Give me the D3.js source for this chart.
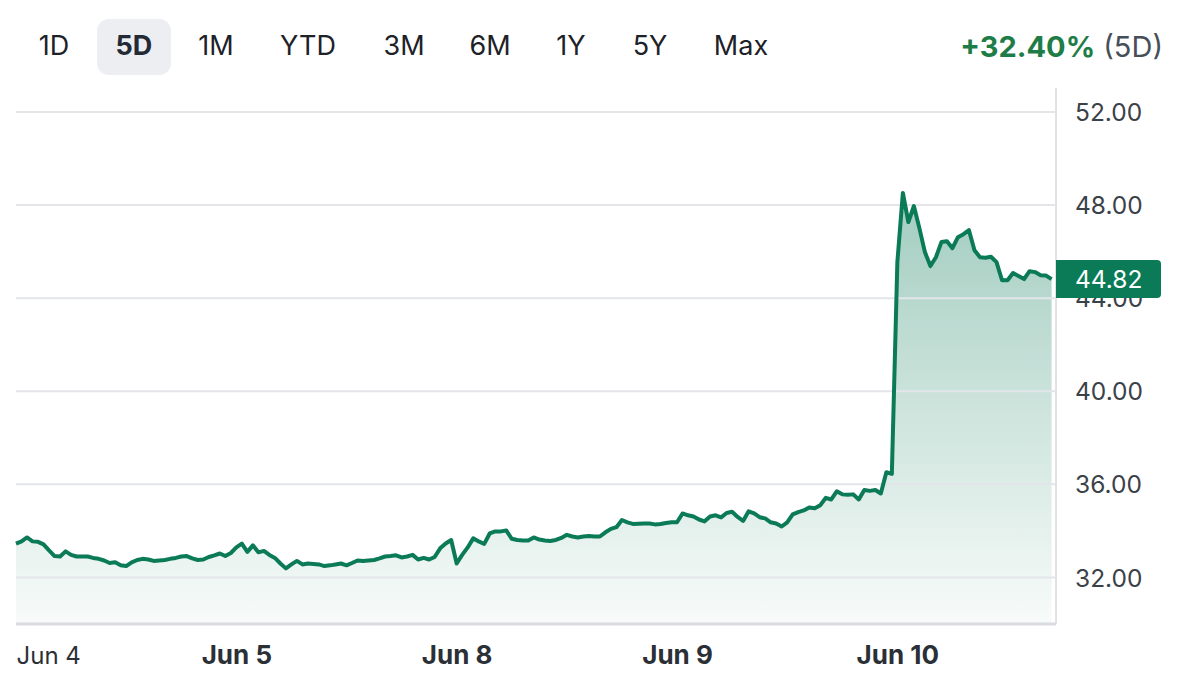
<!DOCTYPE html>
<meta charset="utf-8">
<script src="https://d3js.org/d3.v7.min.js"></script>
<style>
  body { margin: 0; background: #fff; }
  svg { font-family: "Inter", "Noto Sans", sans-serif; }
</style>
<div id="chart"></div>
<script>
  // range buttons across the top
  const ranges = ["1D", "5D", "1M", "YTD", "3M", "6M", "1Y", "5Y", "Max"];
  const rangeX = [54, 134, 216, 308, 404, 490, 571, 650, 741];
  const activeRange = "5D";
  const changeText = "+32.40%";
  const changeSuffix = " (5D)";

  // one array per session, 40 samples per full day (Jun 10 still trading)
  const jun4 = [33.45, 33.55, 33.72, 33.55, 33.53, 33.42, 33.16, 32.92, 32.90, 33.12,
    32.97, 32.90, 32.90, 32.90, 32.84, 32.80, 32.73, 32.62, 32.65, 32.52,
    32.49, 32.65, 32.75, 32.80, 32.77, 32.71, 32.73, 32.75, 32.80, 32.84,
    32.90, 32.92, 32.82, 32.75, 32.77, 32.88, 32.95, 33.03, 32.92, 33.05];
  const jun5 = [33.29, 33.45, 33.10, 33.38, 33.08, 33.14, 32.97, 32.84, 32.60, 32.39,
    32.56, 32.71, 32.56, 32.60, 32.58, 32.56, 32.49, 32.52, 32.56, 32.60,
    32.52, 32.62, 32.73, 32.71, 32.73, 32.75, 32.82, 32.90, 32.92, 32.95,
    32.86, 32.90, 32.97, 32.77, 32.84, 32.77, 32.88, 33.25, 33.46, 33.61];
  const jun8 = [32.60, 32.97, 33.29, 33.68, 33.55, 33.44, 33.89, 33.98, 33.98, 34.02,
    33.66, 33.61, 33.59, 33.59, 33.72, 33.63, 33.59, 33.57, 33.61, 33.70,
    33.83, 33.76, 33.72, 33.76, 33.78, 33.76, 33.76, 33.94, 34.09, 34.16,
    34.47, 34.37, 34.30, 34.31, 34.32, 34.32, 34.28, 34.30, 34.34, 34.37];
  const jun9 = [34.37, 34.75, 34.67, 34.62, 34.49, 34.41, 34.62, 34.67, 34.58, 34.77,
    34.82, 34.60, 34.43, 34.84, 34.75, 34.59, 34.54, 34.37, 34.32, 34.19,
    34.37, 34.71, 34.81, 34.88, 35.01, 34.97, 35.10, 35.42, 35.35, 35.70,
    35.57, 35.55, 35.57, 35.35, 35.76, 35.72, 35.76, 35.61, 36.52, 36.45];
  const jun10 = [45.55, 48.52, 47.27, 47.96, 47.01, 45.98, 45.38, 45.76, 46.41, 46.45,
    46.15, 46.62, 46.75, 46.92, 46.06, 45.76, 45.74, 45.78, 45.55, 44.77,
    44.77, 45.08, 44.95, 44.82, 45.16, 45.12, 44.99, 44.97, 44.82];
  const sessions = [jun4, jun5, jun8, jun9, jun10];
  const samplesPerDay = 40;
  const lastPrice = 44.82;

  const dayLabels = ["Jun 4", "Jun 5", "Jun 8", "Jun 9", "Jun 10"];
  const yTicks = [32, 36, 40, 44, 48, 52];

  const green = "#0b7a57";
  const width = 1183, height = 684;
  const plot = { left: 16, right: 1056, top: 88, bottom: 624 };

  // flatten sessions into points on a "trading day" time axis
  const data = [];
  sessions.forEach((s, d) => s.forEach((v, i) => data.push({ t: d + i / samplesPerDay, v: v })));

  const svg = d3.select("#chart").append("svg")
    .attr("width", width)
    .attr("height", height);

  const x = d3.scaleLinear().domain([0, 4.72]).range([plot.left, plot.right]);
  const y = d3.scaleLinear().domain([30, 52]).range([plot.bottom, 112]);

  // header buttons
  svg.append("rect")
    .attr("x", rangeX[ranges.indexOf(activeRange)] - 37)
    .attr("y", 19)
    .attr("width", 74)
    .attr("height", 56)
    .attr("rx", 12)
    .attr("fill", "#eceef2");

  svg.selectAll(".range")
    .data(ranges)
    .enter()
    .append("text")
    .attr("class", "range")
    .attr("x", (d, i) => rangeX[i])
    .attr("y", 55)
    .attr("text-anchor", "middle")
    .attr("font-size", 27)
    .attr("font-weight", d => d === activeRange ? 700 : 400)
    .attr("fill", d => d === activeRange ? "#232a35" : "#1d2228")
    .text(d => d);

  const change = svg.append("text")
    .attr("x", 1163)
    .attr("y", 57)
    .attr("text-anchor", "end")
    .attr("font-size", 29);
  change.append("tspan").attr("font-weight", 700).attr("fill", "#1e7c46").text(changeText);
  change.append("tspan").attr("fill", "#464e57").text(changeSuffix);

  // area gradient
  const grad = svg.append("defs").append("linearGradient")
    .attr("id", "fade")
    .attr("x1", 0).attr("y1", 0).attr("x2", 0).attr("y2", 1);
  grad.append("stop").attr("offset", "0%").attr("stop-color", green).attr("stop-opacity", 0.38);
  grad.append("stop").attr("offset", "100%").attr("stop-color", green).attr("stop-opacity", 0.03);

  svg.append("path")
    .datum(data)
    .attr("fill", "url(#fade)")
    .attr("d", d3.area().x(d => x(d.t)).y0(plot.bottom).y1(d => y(d.v)));

  // gridlines
  svg.selectAll(".grid")
    .data(yTicks)
    .enter()
    .append("line")
    .attr("x1", plot.left)
    .attr("x2", plot.right)
    .attr("y1", d => y(d))
    .attr("y2", d => y(d))
    .attr("stroke", "#e3e5e8")
    .attr("stroke-width", 2);

  // frame: right edge and bottom axis line
  svg.append("line")
    .attr("x1", plot.right).attr("x2", plot.right)
    .attr("y1", plot.top).attr("y2", plot.bottom)
    .attr("stroke", "#e0e2e5").attr("stroke-width", 2);
  svg.append("line")
    .attr("x1", plot.left).attr("x2", plot.right)
    .attr("y1", plot.bottom).attr("y2", plot.bottom)
    .attr("stroke", "#d9dbde").attr("stroke-width", 3);

  // price line
  svg.append("path")
    .datum(data)
    .attr("fill", "none")
    .attr("stroke", green)
    .attr("stroke-width", 4)
    .attr("stroke-linejoin", "round")
    .attr("d", d3.line().x(d => x(d.t)).y(d => y(d.v)));

  // y axis on the right
  const yAxis = svg.append("g")
    .attr("transform", `translate(${plot.right + 19},0)`)
    .call(d3.axisRight(y).tickValues(yTicks).tickSize(0).tickPadding(0).tickFormat(d3.format(".2f")));
  yAxis.select(".domain").remove();
  yAxis.selectAll("text")
    .attr("font-size", 24.5)
    .attr("font-family", "Inter, sans-serif")
    .attr("fill", "#3b4148")
    .attr("dy", "0.35em");

  // x axis labels at each session open
  const xAxis = svg.append("g")
    .attr("transform", `translate(0,${plot.bottom})`)
    .call(d3.axisBottom(x).tickValues([0, 1, 2, 3, 4]).tickSize(0).tickPadding(0)
      .tickFormat((d, i) => dayLabels[i]));
  xAxis.select(".domain").remove();
  xAxis.selectAll("text")
    .attr("y", 40)
    .attr("dy", 0)
    .attr("font-size", (d, i) => i === 0 ? 24 : 26)
    .attr("font-family", "Inter, sans-serif")
    .attr("fill", "#2b3036")
    .attr("font-weight", (d, i) => i === 0 ? 400 : 700)
    .attr("text-anchor", (d, i) => i === 0 ? "start" : "middle");

  // last price tag
  const tag = svg.append("g").attr("transform", `translate(${plot.right},${y(lastPrice)})`);
  tag.append("path")
    .attr("d", "M0,-19 H101 a4,4 0 0 1 4,4 V15 a4,4 0 0 1 -4,4 H0 Z")
    .attr("fill", green);
  tag.append("text")
    .attr("x", 19)
    .attr("dy", "0.36em")
    .attr("font-size", 24.5)
    .attr("fill", "#fff")
    .text(lastPrice.toFixed(2));
</script>
